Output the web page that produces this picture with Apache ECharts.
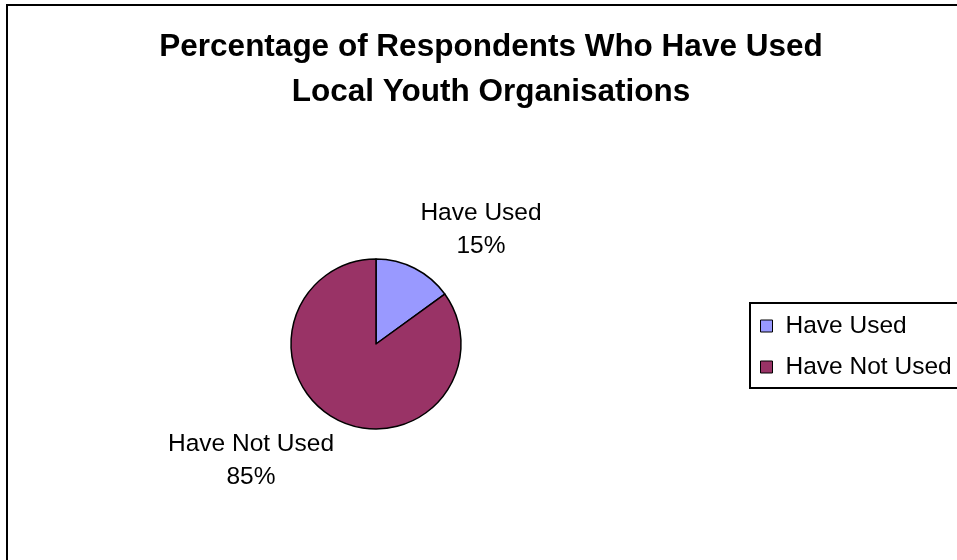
<!DOCTYPE html>
<html>
<head>
<meta charset="utf-8">
<script src="https://cdn.jsdelivr.net/npm/echarts@6/dist/echarts.min.js"></script>
<style>
  html, body { margin: 0; padding: 0; background: #fff; }
  #chart { width: 957px; height: 560px; }
</style>
</head>
<body>
<div id="chart"></div>
<script>
// Survey answers and their share of respondents (%)
const categories = ['Have Used', 'Have Not Used'];
const percentages = [15, 85];
const sliceColors = ['#9999FF', '#993366'];

const FONT = '"Liberation Sans", Arial, sans-serif';

const chart = echarts.init(document.getElementById('chart'), null, { renderer: 'canvas' });

// Label anchor points around the pie, one per slice
const labelAnchors = [
  { x: 481, y: 230 },
  { x: 251, y: 461 }
];

chart.setOption({
  backgroundColor: '#ffffff',
  animation: false,
  title: {
    text: 'Percentage of Respondents Who Have Used\nLocal Youth Organisations',
    left: 486,
    textAlign: 'center',
    top: 20,
    textStyle: {
      fontFamily: FONT,
      fontWeight: 'bold',
      fontSize: 31.5,
      lineHeight: 45,
      color: '#000'
    }
  },
  legend: {
    orient: 'vertical',
    left: 750,
    top: 303,
    data: categories,
    icon: 'rect',
    itemWidth: 12,
    itemHeight: 12,
    itemGap: 15,
    padding: [10, 30, 8, 10],
    borderColor: '#000',
    borderWidth: 2,
    itemStyle: { borderColor: '#000', borderWidth: 1 },
    textStyle: {
      fontFamily: FONT,
      fontSize: 24.5,
      lineHeight: 26,
      color: '#000',
      padding: [0, 0, 0, 8]
    }
  },
  graphic: [{
    type: 'rect',
    silent: true,
    shape: { x: 7, y: 5, width: 1000, height: 600 },
    style: { fill: 'none', stroke: '#000', lineWidth: 2 }
  }],
  series: [{
    type: 'pie',
    center: [376, 344],
    radius: 85,
    startAngle: 90,
    clockwise: true,
    data: categories.map((name, i) => ({
      name,
      value: percentages[i],
      itemStyle: { color: sliceColors[i] }
    })),
    itemStyle: { borderColor: '#000', borderWidth: 1.5 },
    label: {
      show: true,
      position: 'outside',
      formatter: p => p.name + '\n' + p.value + '%',
      fontFamily: FONT,
      fontSize: 24.5,
      lineHeight: 33,
      color: '#000',
      align: 'center'
    },
    labelLine: { show: false },
    labelLayout: p => ({
      x: labelAnchors[p.dataIndex].x,
      y: labelAnchors[p.dataIndex].y,
      align: 'center',
      verticalAlign: 'middle'
    }),
    emphasis: { disabled: true }
  }]
});
</script>
</body>
</html>
